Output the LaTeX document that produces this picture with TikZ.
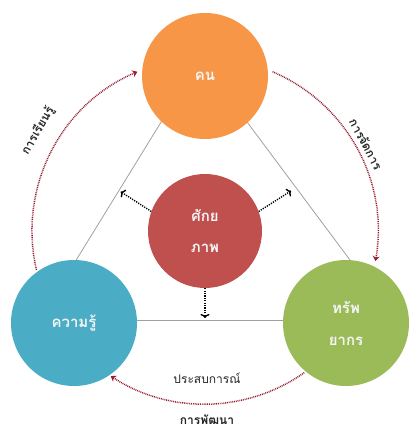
\documentclass[tikz,border=0pt]{standalone}
\usepackage{fontspec}
\newfontfamily\thai[Script=Thai]{Loma}
\usetikzlibrary{arrows.meta}
\definecolor{corange}{RGB}{247,150,70}
\definecolor{cred}{RGB}{192,80,77}
\definecolor{cblue}{RGB}{75,172,198}
\definecolor{cgreen}{RGB}{155,187,89}
\definecolor{arcred}{RGB}{150,30,50}
\definecolor{tri}{RGB}{160,160,160}
\tikzset{
  bigc/.style={circle, minimum size=126pt, inner sep=0pt, text=white!92!gray, font=\thai\bfseries\fontsize{15}{32}\selectfont, align=center},
  midc/.style={circle, minimum size=114pt, inner sep=0pt, text=white!92!gray, font=\thai\bfseries\fontsize{15}{31}\selectfont, align=center},
  triline/.style={draw=tri, line width=0.8pt},
  redarc/.style={draw=arcred, line width=1.5pt, dash pattern=on 0.9pt off 0.9pt, -{Stealth[length=5pt,width=7pt,fill=arcred]}},
  blkarrow/.style={draw=black, line width=1.4pt, dash pattern=on 1.2pt off 1.2pt, -{To[length=4pt,width=9pt]}},
  lbl/.style={font=\thai\fontsize{12}{14}\selectfont, text=black!85},
  blbl/.style={font=\thai\bfseries\fontsize{12}{14}\selectfont, text=black!85}
}
\begin{document}
\begin{tikzpicture}[x=1pt,y=1pt]
\useasboundingbox (0,0) rectangle (409,431);
% triangle lines (behind circles)
\coordinate (ta) at (167,318.5);
\coordinate (tb) at (63,149.5);
\coordinate (tc) at (238.5,320.5);
\coordinate (td) at (364.5,151.5);
\coordinate (te) at (74,111);
\coordinate (tf) at (346,111);
\draw[triline] (ta) -- (tb);
\draw[triline] (tc) -- (td);
\draw[triline] (te) -- (tf);
% circles
\node[bigc, fill=corange] (kon) at (205,355) {คน};
\node[midc, fill=cred] (sak) at (205,200) {ศักย\\ภาพ};
\node[bigc, fill=cblue] (know) at (74,108) {ความรู้};
\node[bigc, fill=cgreen] (res) at (346,108) {ทรัพ\\ยากร};
% hub for arcs
\coordinate (hub) at (205,200);
% red dotted arcs
\draw[redarc] ([shift={(193:173)}]hub) arc[start angle=193, end angle=113, radius=173];
\draw[redarc] ([shift={(67:173)}]hub) arc[start angle=67, end angle=-10, radius=173];
\draw[redarc] ([shift={(-55:173)}]hub) arc[start angle=-55, end angle=-123, radius=173];
% black dotted arrows
\coordinate (pl) at ([shift={(155:93)}]hub);
\coordinate (pr) at ([shift={(25:95)}]hub);
\coordinate (pd) at (205,113);
\draw[blkarrow] (sak.160) -- (pl);
\draw[blkarrow] (sak.20) -- (pr);
\draw[blkarrow] (sak.south) -- (pd);
% labels
\node[blbl, rotate=60] (l1) at (38,300) {การเรียนรู้};
\node[blbl, rotate=-62] (l2) at (366,287) {การจัดการ};
\node[lbl] (l3) at (207,53) {ประสบการณ์};
\node[blbl] (l4) at (207,11) {การพัฒนา};
\end{tikzpicture}
\end{document}
